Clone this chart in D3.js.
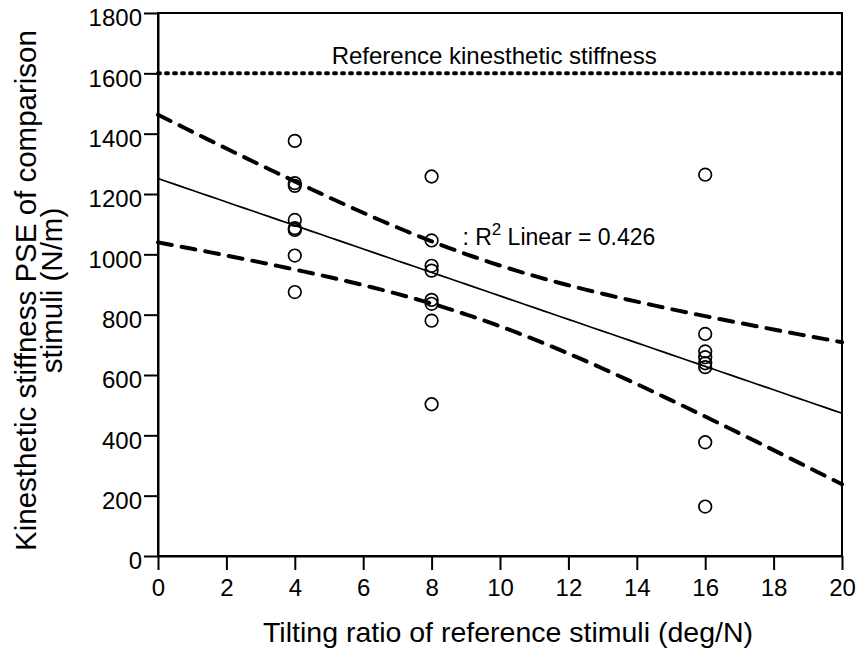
<!DOCTYPE html>
<html>
<head>
<meta charset="utf-8">
<script src="https://cdn.jsdelivr.net/npm/d3@7"></script>
<style>
  body { margin: 0; background: #fff; }
  text { font-family: "Liberation Sans", Arial, sans-serif; fill: #000; }
</style>
</head>
<body>
<div id="chart"></div>
<script>
// data
const tiltRatios = [4, 8, 16];
const pse4 = [1376, 1236, 1227, 1114, 1087, 1081, 996, 875];
const pse8 = [1258, 1046, 962, 946, 849, 836, 780, 503];
const pse16 = [1264, 736, 678, 659, 639, 626, 377, 164];
const referenceStiffness = 1600;
const xTicks = [0, 2, 4, 6, 8, 10, 12, 14, 16, 18, 20];
const yTicks = [0, 200, 400, 600, 800, 1000, 1200, 1400, 1600, 1800];
const r2Label = "0.426";

const points = [];
[pse4, pse8, pse16].forEach((vals, i) => {
  vals.forEach(v => points.push({x: tiltRatios[i], y: v}));
});

// Dimensions
const W = 859, H = 651;
const margin = {top: 13, right: 17, bottom: 95, left: 158};
const width = W - margin.left - margin.right,
      height = H - margin.top - margin.bottom;

const svg = d3.select("#chart")
  .append("svg")
    .attr("width", W)
    .attr("height", H)
  .append("g")
    .attr("transform", `translate(${margin.left},${margin.top})`);

const x = d3.scaleLinear().domain([0, 20]).range([0, width]);
const y = d3.scaleLinear().domain([0, 1800]).range([height, 0]);

// frame
svg.append("rect")
  .attr("x", 0).attr("y", 0)
  .attr("width", width).attr("height", height)
  .attr("fill", "none").attr("stroke", "#000").attr("stroke-width", 2);

// axes
const xAxis = svg.append("g")
  .attr("transform", `translate(0,${height})`)
  .call(d3.axisBottom(x).tickValues(xTicks).tickFormat(d3.format("d"))
    .tickSize(14).tickSizeOuter(0).tickPadding(9));
const yAxis = svg.append("g")
  .call(d3.axisLeft(y).tickValues(yTicks).tickFormat(d3.format("d"))
    .tickSize(14).tickSizeOuter(0).tickPadding(2));
[xAxis, yAxis].forEach(a => {
  a.select(".domain").attr("stroke-width", 2);
  a.selectAll(".tick line").attr("stroke-width", 2);
  a.selectAll("text").style("font-size", "24px").style("font-family", "'Liberation Sans', Arial, sans-serif");
});
// labels sit a little below their ticks in the original
yAxis.selectAll(".tick text").attr("dy", "0.54em");

// linear fit with 95% mean confidence band
const n = points.length;
const mx = d3.mean(points, d => d.x), my = d3.mean(points, d => d.y);
const sxx = d3.sum(points, d => (d.x - mx) ** 2);
const sxy = d3.sum(points, d => (d.x - mx) * (d.y - my));
const slope = sxy / sxx, intercept = my - slope * mx;
const sse = d3.sum(points, d => (d.y - (intercept + slope * d.x)) ** 2);
const s = Math.sqrt(sse / (n - 2));
const tCrit = 2.074; // df = 22
const xs = d3.range(0, 20.001, 0.25);
const band = xs.map(v => {
  const fit = intercept + slope * v;
  const hw = tCrit * s * Math.sqrt(1 / n + (v - mx) ** 2 / sxx);
  return {x: v, fit: fit, lo: fit - hw, hi: fit + hw};
});

const line = key => d3.line().x(d => x(d.x)).y(d => y(d[key]));

svg.append("path").datum(band)
  .attr("d", line("fit"))
  .attr("fill", "none").attr("stroke", "#000").attr("stroke-width", 1.7);

["lo", "hi"].forEach(k => {
  svg.append("path").datum(band)
    .attr("d", line(k))
    .attr("fill", "none").attr("stroke", "#000").attr("stroke-width", 4)
    .attr("stroke-dasharray", "14 10").attr("stroke-linecap", "round");
});

// reference line
svg.append("line")
  .attr("x1", 0).attr("x2", width)
  .attr("y1", y(referenceStiffness)).attr("y2", y(referenceStiffness))
  .attr("stroke", "#000").attr("stroke-width", 4)
  .attr("stroke-dasharray", "2 6").attr("stroke-linecap", "round");

svg.append("text")
  .attr("x", x(9.83)).attr("y", y(referenceStiffness) - 9)
  .attr("text-anchor", "middle")
  .style("font-size", "24px")
  .text("Reference kinesthetic stiffness");

// points
svg.append("g").selectAll("circle")
  .data(points)
  .join("circle")
    .attr("cx", d => x(d.x))
    .attr("cy", d => y(d.y))
    .attr("r", 6.3)
    .attr("fill", "none")
    .attr("stroke", "#000")
    .attr("stroke-width", 1.7);

// R^2 label
const r2 = svg.append("text")
  .attr("x", x(8.9)).attr("y", y(1030))
  .style("font-size", "23px");
r2.append("tspan").text(": R");
r2.append("tspan").attr("dy", -10).style("font-size", "17px").text("2");
r2.append("tspan").attr("dy", 10).text(" Linear = " + r2Label);

// axis titles
svg.append("text")
  .attr("x", width / 2 + 8).attr("y", height + 86)
  .attr("text-anchor", "middle")
  .style("font-size", "28.5px")
  .text("Tilting ratio of reference stimuli (deg/N)");

const yt = svg.append("text")
  .attr("transform", `translate(${-margin.left + 36},${height / 2 + 6}) rotate(-90)`)
  .attr("text-anchor", "middle")
  .style("font-size", "29.5px");
yt.append("tspan").attr("x", 0).attr("dy", 0).text("Kinesthetic stiffness PSE of comparison");
yt.append("tspan").attr("x", 0).attr("dy", 26).text("stimuli (N/m)");
</script>
</body>
</html>
